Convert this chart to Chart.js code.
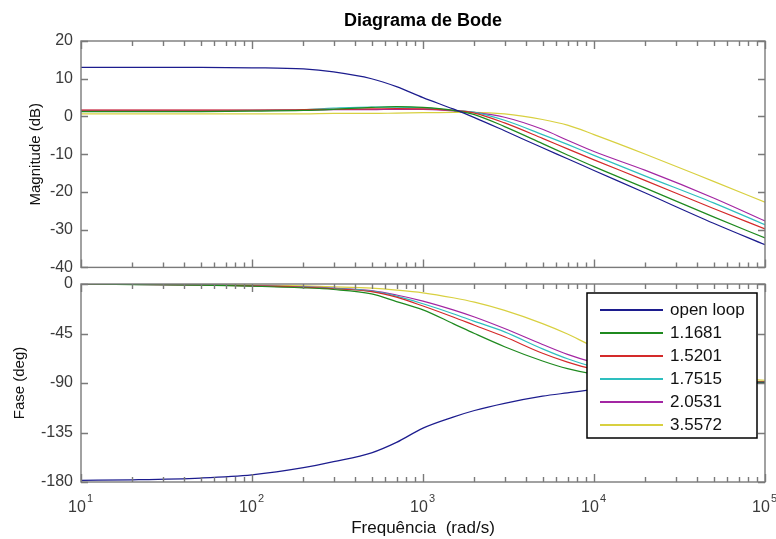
<!DOCTYPE html>
<html>
<head>
<meta charset="utf-8">
<script src="https://cdn.jsdelivr.net/npm/chart.js@4.4.0/dist/chart.umd.min.js"></script>
<style>
  body { margin: 0; background: #fff; }
  #wrap { position: relative; width: 776px; height: 539px; background: #fff; }
  #magBox { position: absolute; left: 0; top: 0; }
  #phaseBox { position: absolute; left: 0; top: 270px; }
</style>
</head>
<body>
<div id="wrap">
  <div id="magBox"><canvas id="magChart" width="776" height="277"></canvas></div>
  <div id="phaseBox"><canvas id="phaseChart" width="776" height="269"></canvas></div>
</div>
<script>
// 周波数 (rad/s)
const freqs = [10, 20, 50, 100, 200, 300, 500, 700, 1000, 1500, 2000, 3000, 5000, 7000, 10000, 20000, 50000, 100000];
const seriesLabels = ['open loop', '1.1681', '1.5201', '1.7515', '2.0531', '3.5572'];

// ゲイン (dB)
const magOpenLoop = [13.0, 13.0, 13.0, 12.9, 12.6, 11.8, 10.0, 7.9, 5.0, 2.0, -0.3, -3.8, -8.3, -11.2, -14.3, -20.3, -28.3, -34.0];
const mag11681 = [1.3, 1.3, 1.3, 1.4, 1.6, 1.9, 2.4, 2.6, 2.4, 1.6, 0.5, -2.7, -7.2, -10.2, -13.3, -19.0, -26.6, -32.2];
const mag15201 = [1.7, 1.7, 1.7, 1.7, 1.8, 1.9, 2.0, 2.1, 2.0, 1.6, 0.9, -1.7, -5.8, -8.6, -11.5, -17.0, -24.4, -29.8];
const mag17515 = [1.5, 1.5, 1.5, 1.6, 1.8, 2.2, 2.5, 2.5, 2.3, 1.6, 1.1, -1.0, -4.8, -7.4, -10.3, -15.8, -22.9, -28.7];
const mag20531 = [1.6, 1.6, 1.6, 1.6, 1.7, 1.8, 1.8, 1.9, 1.9, 1.5, 1.1, -0.2, -3.4, -6.3, -9.3, -14.3, -21.6, -27.7];
const mag35572 = [0.7, 0.7, 0.7, 0.7, 0.7, 0.8, 0.8, 0.9, 1.0, 1.1, 1.1, 0.7, -0.8, -2.3, -4.8, -10.0, -17.2, -22.7];

// 位相 (deg)
const phaseOpenLoop = [-178.5, -178, -176.4, -173.5, -167, -161.5, -153.5, -144, -131, -121, -115, -108.5, -102, -99, -96, -93, -91, -90];
const phase11681 = [0, -0.5, -1, -2, -3.5, -5, -9, -16, -23.5, -36, -45, -57, -70, -77, -82, -87, -89, -89.5];
const phase15201 = [0, -0.4, -0.9, -1.7, -3, -4.3, -7, -12, -20, -30, -37.5, -48, -63, -71, -77.5, -85, -88.5, -89];
const phase17515 = [0, -0.4, -0.8, -1.6, -2.8, -4, -6.5, -11, -18, -27, -34, -43.5, -59, -68, -75.5, -84, -88, -89];
const phase20531 = [0, -0.4, -0.8, -1.5, -2.6, -3.7, -6, -10, -15.5, -23.5, -30, -40.5, -55, -64, -71.5, -82, -87.5, -89];
const phase35572 = [0, -0.2, -0.5, -0.9, -1.7, -2.5, -3.8, -5.5, -8, -12.5, -16.5, -24, -36, -45.5, -57, -73, -84.5, -87.5];

// 目盛り
const decadeTicks = [10, 100, 1000, 10000, 100000];
const decadeExponents = ['1', '2', '3', '4', '5'];
const magTicks = [20, 10, 0, -10, -20, -30, -40];
const phaseTicks = [0, -45, -90, -135, -180];

const colors = ['#1c1c8e', '#1f8a1f', '#d42a2a', '#2ebfbf', '#a326a3', '#d8d040'];
const fontFamily = "'Liberation Sans', Arial, sans-serif";
const axisColor = '#7a7a7a';
const textColor = '#3a3a3a';

function makeDatasets(arrays) {
  return arrays.map(function(arr, i) {
    return {
      label: seriesLabels[i],
      data: freqs.map(function(f, j) { return { x: f, y: arr[j] }; }),
      borderColor: colors[i],
      borderWidth: 1.2,
      pointRadius: 0,
      fill: false,
      cubicInterpolationMode: 'monotone'
    };
  });
}

// x軸: 1〜9 × 10^n の目盛り
function buildLogTicks(scale) {
  const t = [];
  for (let d = 10; d < 100000; d *= 10) {
    for (let k = 1; k < 10; k++) t.push({ value: d * k, major: k === 1 });
  }
  t.push({ value: 100000, major: true });
  scale.ticks = t;
}

// MATLAB風の枠と内向きの目盛り線
const boxPlugin = {
  id: 'matlabBox',
  afterDatasetsDraw(chart) {
    const { ctx, chartArea: a, scales } = chart;
    ctx.save();
    ctx.strokeStyle = axisColor;
    ctx.lineWidth = 1.4;
    ctx.beginPath();
    scales.x.ticks.forEach(function(t) {
      const px = Math.round(scales.x.getPixelForValue(t.value)) + 0.5;
      const len = t.major ? 8 : 5;
      ctx.moveTo(px, a.bottom); ctx.lineTo(px, a.bottom - len);
      ctx.moveTo(px, a.top); ctx.lineTo(px, a.top + len);
    });
    scales.y.ticks.forEach(function(t) {
      const py = Math.round(scales.y.getPixelForValue(t.value)) + 0.5;
      ctx.moveTo(a.left, py); ctx.lineTo(a.left + 7, py);
      ctx.moveTo(a.right, py); ctx.lineTo(a.right - 7, py);
    });
    ctx.stroke();
    ctx.strokeRect(a.left, a.top, a.right - a.left, a.bottom - a.top);
    ctx.restore();
  }
};

// 10^n の指数部分
const exponentPlugin = {
  id: 'exponents',
  afterDraw(chart) {
    const { ctx, scales } = chart;
    ctx.save();
    ctx.fillStyle = textColor;
    ctx.font = '11px ' + fontFamily;
    ctx.textAlign = 'left';
    ctx.textBaseline = 'middle';
    decadeTicks.forEach(function(v, i) {
      const px = scales.x.getPixelForValue(v);
      ctx.fillText(decadeExponents[i], px + 6, scales.x.top + 17);
    });
    ctx.restore();
  }
};

// 凡例 (位相図の右上)
const legendPlugin = {
  id: 'boxLegend',
  afterDraw(chart) {
    const { ctx, chartArea: a } = chart;
    const w = 170, h = 145;
    const left = Math.round(a.right - 8 - w), top = Math.round(a.top + 9);
    ctx.save();
    ctx.fillStyle = '#fff';
    ctx.fillRect(left, top, w, h);
    ctx.strokeStyle = '#000';
    ctx.lineWidth = 1.5;
    ctx.strokeRect(left, top, w, h);
    ctx.font = '17px ' + fontFamily;
    ctx.textBaseline = 'middle';
    chart.data.datasets.forEach(function(ds, i) {
      const y = top + 17 + i * 23;
      ctx.strokeStyle = ds.borderColor;
      ctx.lineWidth = 2;
      ctx.beginPath();
      ctx.moveTo(left + 13, y);
      ctx.lineTo(left + 76, y);
      ctx.stroke();
      ctx.fillStyle = '#111';
      ctx.fillText(ds.label, left + 83, y);
    });
    ctx.restore();
  }
};

function yAxis(min, max, ticks, title, titlePad) {
  return {
    type: 'linear',
    min: min,
    max: max,
    afterBuildTicks: function(scale) { scale.ticks = ticks.map(function(v) { return { value: v }; }); },
    afterFit: function(scale) { scale.width = 81; },
    grid: { display: false, drawTicks: true, tickLength: 8 },
    border: { display: false },
    ticks: { padding: 0, color: textColor, font: { family: fontFamily, size: 16 } },
    title: { display: true, text: title, color: '#111', padding: { top: titlePad }, font: { family: fontFamily, size: 15 } }
  };
}

Chart.defaults.animation = false;

// ゲイン線図
var magChart = new Chart(document.getElementById('magChart'), {
  type: 'line',
  data: { datasets: makeDatasets([magOpenLoop, mag11681, mag15201, mag17515, mag20531, mag35572]) },
  options: {
    responsive: false,
    devicePixelRatio: 1,
    layout: { padding: { left: 0, right: 11, top: 0, bottom: 0 } },
    plugins: {
      legend: { display: false },
      tooltip: { enabled: false },
      title: {
        display: true,
        text: 'Diagrama de Bode',
        fullSize: false,
        color: '#000',
        font: { family: fontFamily, size: 18, weight: 'bold' },
        padding: { top: 10, bottom: 9.4 }
      }
    },
    scales: {
      x: {
        type: 'logarithmic',
        min: 10,
        max: 100000,
        afterBuildTicks: buildLogTicks,
        afterFit: function(scale) { scale.height = 0; },
        grid: { display: false, drawTicks: false },
        border: { display: false },
        ticks: { display: false }
      },
      y: yAxis(-40, 20, magTicks, 'Magnitude (dB)', 27)
    }
  },
  plugins: [boxPlugin]
});

// 位相線図
var phaseChart = new Chart(document.getElementById('phaseChart'), {
  type: 'line',
  data: { datasets: makeDatasets([phaseOpenLoop, phase11681, phase15201, phase17515, phase20531, phase35572]) },
  options: {
    responsive: false,
    devicePixelRatio: 1,
    layout: { padding: { left: 0, right: 11, top: 14, bottom: 0 } },
    plugins: {
      legend: { display: false },
      tooltip: { enabled: false }
    },
    scales: {
      x: {
        type: 'logarithmic',
        min: 10,
        max: 100000,
        afterBuildTicks: buildLogTicks,
        afterFit: function(scale) { scale.height = 57; },
        grid: { display: false, drawTicks: true, tickLength: 16 },
        border: { display: false },
        ticks: {
          autoSkip: false,
          maxRotation: 0,
          padding: 0,
          labelOffset: -4,
          color: textColor,
          font: { family: fontFamily, size: 16 },
          callback: function(v) { return decadeTicks.indexOf(v) >= 0 ? '10' : ''; }
        },
        title: { display: true, text: 'Frequência  (rad/s)', color: '#111', padding: { top: 0, bottom: 0 }, font: { family: fontFamily, size: 17 } }
      },
      y: yAxis(-180, 0, phaseTicks, 'Fase (deg)', 10.5)
    }
  },
  plugins: [boxPlugin, exponentPlugin, legendPlugin]
});
</script>
</body>
</html>
